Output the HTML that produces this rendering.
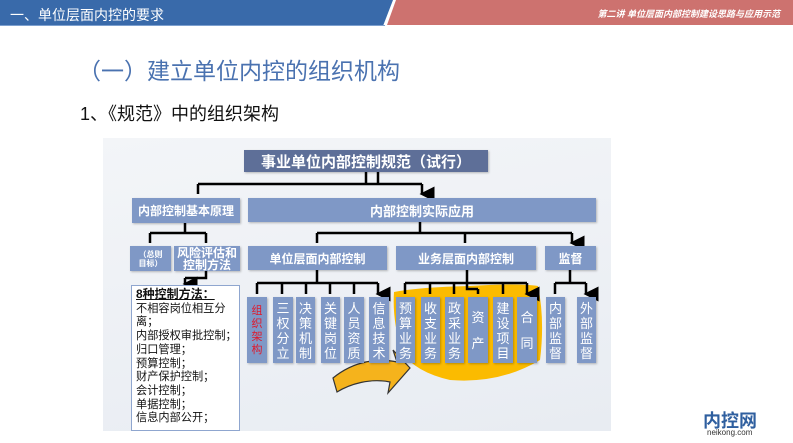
<!DOCTYPE html>
<html><head><meta charset="utf-8"><style>
*{margin:0;padding:0;box-sizing:border-box}
body{width:793px;height:443px;background:#fff;position:relative;overflow:hidden;font-family:"Liberation Sans","Noto Sans CJK SC",sans-serif}
.a{position:absolute}
.b{position:absolute;background:#7f98c6;color:#fff;display:flex;align-items:center;justify-content:center;text-align:center;font-weight:bold;box-shadow:1px 1px 2px rgba(0,0,0,.25)}
.v{font-size:13px;line-height:15px;font-weight:normal;padding-top:2px}
</style></head><body>
<div class="a" style="left:0;top:0;width:793px;height:25px;background:#396aaa"></div>
<svg class="a" style="left:0;top:0" width="793" height="27"><polygon points="393,0 793,0 793,26 383,26" fill="#fff"/><polygon points="396,0 793,0 793,25 387,25" fill="#cd726f"/><line x1="0" y1="25.5" x2="385" y2="25.5" stroke="#7da0cf" stroke-width="1"/></svg>
<div class="a" style="left:10px;top:5px;color:#fff;font-size:14px">一、单位层面内控的要求</div>
<div class="a" style="left:400px;top:7px;width:380px;text-align:right;color:#fff;font-size:9px;font-weight:bold;font-style:italic">第二讲 单位层面内部控制建设思路与应用示范</div>
<div class="a" style="left:78px;top:52px;color:#4a72b0;font-size:23px">（一）建立单位内控的组织机构</div>
<div class="a" style="left:80px;top:100px;color:#111;font-size:18px">1、《规范》中的组织架构</div>

<div class="a" style="left:103px;top:138px;width:508px;height:293px;background:linear-gradient(170deg,#f3f5f8,#e8ecf2)"></div>
<svg class="a" style="left:0;top:0" width="793" height="443">
<defs><marker id="m" markerWidth="6" markerHeight="6" refX="3" refY="5" orient="auto"><path d="M0,0 L6,0 L3,6z" fill="#000"/></marker></defs>
<path d="M394,292 Q420,287 470,286 Q520,283 538,286 Q545,320 540,360 Q500,384 450,380 Q415,372 402,352 Q392,320 394,292z" fill="#fbbb00"/>
<path d="M333,378 C355,360 380,358 397,362 L393,350 L410,368 L388,393 L390,382 C370,378 350,384 337,392z" fill="#f5b31c" stroke="#333" stroke-width="1.2"/>
<g stroke="#000" stroke-width="2.5" fill="none">
<path d="M366,172V184M378,172V184M198,184H422"/>
<path d="M198,184V194M422,184V194" marker-end="url(#m)"/>
<path d="M185,223V233M150,233H206M420,222V233M317,233H572"/>
<path d="M150,233V243M206,233V243M317,233V243M465,233V243M572,233V243" marker-end="url(#m)"/>
<path d="M206,271V278H185"/><path d="M185,278V284" marker-end="url(#m)"/>
<path d="M317,270V283M257,283H378"/>
<path d="M257,283V294M282,283V294M306,283V294M330,283V294M354,283V294M378,283V294" marker-end="url(#m)"/>
<path d="M467,270V283M405,283H527M467,283V289H478"/>
<path d="M405,283V294M430,283V294M454,283V294M478,289V294M503,283V294M527,283V294" marker-end="url(#m)"/>
<path d="M570,270V283M555,283H586"/>
<path d="M555,283V294M586,283V294" marker-end="url(#m)"/>
</g></svg>

<div class="b" style="left:244px;top:150px;width:244px;height:22px;background:#5e6f98;font-size:15px">事业单位内部控制规范（试行）</div>
<div class="b" style="left:132px;top:198px;width:108px;height:25px;font-size:12px">内部控制基本原理</div>
<div class="b" style="left:248px;top:198px;width:348px;height:24px;font-size:13px">内部控制实际应用</div>
<div class="b" style="left:130px;top:246px;width:41px;height:25px;font-size:8px;line-height:9px">（总则<br>目标）</div>
<div class="b" style="left:174px;top:246px;width:66px;height:25px;font-size:12px;line-height:12px">风险评估和<br>控制方法</div>
<div class="b" style="left:248px;top:246px;width:139px;height:24px;font-size:12px">单位层面内部控制</div>
<div class="b" style="left:396px;top:246px;width:140px;height:24px;font-size:12px">业务层面内部控制</div>
<div class="b" style="left:545px;top:246px;width:51px;height:24px;font-size:12px">监督</div>
<div class="a" style="left:131px;top:285px;width:109px;height:146px;background:#fff;border:1.5px solid #8fa6cf;padding:2px 0 0 4px;font-size:11.2px;line-height:13.7px;color:#111;white-space:nowrap;overflow:hidden"><b style="text-decoration:underline;font-size:12px">8种控制方法：</b><br>不相容岗位相互分<br>离；<br>内部授权审批控制；<br>归口管理；<br>预算控制；<br>财产保护控制；<br>会计控制；<br>单据控制；<br>信息内部公开；</div>

<div class="b v" style="left:247px;top:297px;width:20px;height:66px;color:#e0182a;font-size:11px;line-height:13px">组<br>织<br>架<br>构</div>
<div class="b v" style="left:273px;top:297px;width:20px;height:66px">三<br>权<br>分<br>立</div>
<div class="b v" style="left:296px;top:297px;width:19px;height:66px">决<br>策<br>机<br>制</div>
<div class="b v" style="left:321px;top:297px;width:19px;height:66px">关<br>键<br>岗<br>位</div>
<div class="b v" style="left:344px;top:297px;width:20px;height:66px">人<br>员<br>资<br>质</div>
<div class="b v" style="left:369px;top:297px;width:20px;height:66px">信<br>息<br>技<br>术</div>
<div class="b v" style="left:396px;top:297px;width:19px;height:66px">预<br>算<br>业<br>务</div>
<div class="b v" style="left:421px;top:297px;width:19px;height:66px">收<br>支<br>业<br>务</div>
<div class="b v" style="left:445px;top:297px;width:19px;height:66px">政<br>采<br>业<br>务</div>
<div class="b v" style="left:468px;top:297px;width:20px;height:66px;line-height:26px">资<br>产</div>
<div class="b v" style="left:493px;top:297px;width:20px;height:66px">建<br>设<br>项<br>目</div>
<div class="b v" style="left:517px;top:297px;width:20px;height:66px;line-height:26px">合<br>同</div>
<div class="b v" style="left:546px;top:297px;width:19px;height:66px">内<br>部<br>监<br>督</div>
<div class="b v" style="left:577px;top:297px;width:19px;height:66px">外<br>部<br>监<br>督</div>

<div class="a" style="left:703px;top:407px;color:#2f5f9f;font-size:18px;font-weight:bold">内控网</div>
<div class="a" style="left:707px;top:428px;color:#333;font-size:8px">neikong.com</div>
</body></html>
